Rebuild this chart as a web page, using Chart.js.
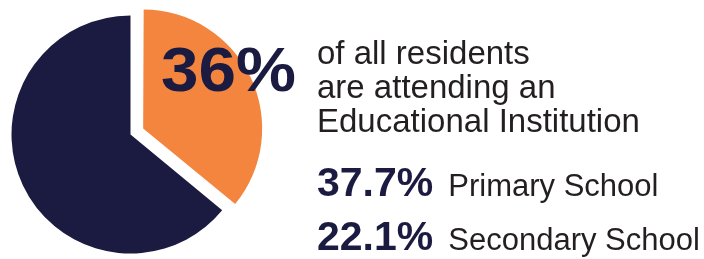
<!DOCTYPE html>
<html>
<head>
<meta charset="utf-8">
<script src="https://cdn.jsdelivr.net/npm/chart.js@4/dist/chart.umd.min.js"></script>
<style>
  html, body { margin: 0; padding: 0; background: #ffffff; overflow: hidden; }
  #wrap { position: relative; width: 704px; height: 259px; }
  #c { position: absolute; left: 0; top: 0; }
  .t { position: absolute; white-space: nowrap; line-height: 1; font-family: "Liberation Sans", Arial, Helvetica, sans-serif; }
  .big { font-weight: bold; color: #1b1a41; }
  .norm { color: #231f20; }
</style>
</head>
<body>
<div id="wrap">
  <canvas id="c" width="704" height="259"></canvas>
  <div class="t big" id="pct" style="left:161px; top:38px; font-size:63px; transform:scaleX(1.07); transform-origin:0 0;"></div>
  <div class="t norm" id="l1" style="left:317px; top:36px; font-size:33px;"></div>
  <div class="t norm" id="l2" style="left:317px; top:70px; font-size:33px;"></div>
  <div class="t norm" id="l3" style="left:317px; top:104px; font-size:33px;"></div>
  <div class="t" id="r1" style="left:317px; top:162px;"></div>
  <div class="t" id="r2" style="left:317px; top:216px;"></div>
</div>
<script>
const categories = ["Attending an Educational Institution", "Not attending"];
const shareValues = [36, 64];
const sliceColors = ["#f3853f", "#1b1a41"];
const headline = "36%";
const headlineText = ["of all residents", "are attending an", "Educational Institution"];
const schoolLabels = ["Primary School", "Secondary School"];
const schoolValues = ["37.7%", "22.1%"];

document.getElementById("pct").textContent = headline;
["l1", "l2", "l3"].forEach((id, i) => { document.getElementById(id).textContent = headlineText[i]; });
["r1", "r2"].forEach((id, i) => {
  const el = document.getElementById(id);
  el.innerHTML = '<span style="font-weight:bold;color:#1b1a41;font-size:41px;">' + schoolValues[i] +
    '</span><span style="color:#231f20;font-size:31px;margin-left:15px;">' + schoolLabels[i] + '</span>';
});

// Keep exploded slices at the same radius as the rest (Chart.js grows them slightly).
const keepRadius = {
  id: "keepRadius",
  afterDatasetUpdate(chart, args) {
    args.meta.data.forEach(el => {
      const off = ((el.options && el.options.offset) || 0) / 4;
      if (off) {
        const fix = 1 - Math.sin(Math.min(Math.PI, el.circumference || 0));
        el.outerRadius = Math.max(el.outerRadius - off * fix, 0);
      }
    });
  }
};

new Chart(document.getElementById("c"), {
  type: "pie",
  data: {
    labels: categories,
    datasets: [{
      data: shareValues,
      backgroundColor: sliceColors,
      borderWidth: 0,
      offset: [56, 0],
      hoverOffset: 0
    }]
  },
  options: {
    responsive: false,
    animation: false,
    events: [],
    radius: 119,
    layout: { padding: { left: 0, right: 443, top: 10, bottom: 0 } },
    plugins: { legend: { display: false }, tooltip: { enabled: false } }
  },
  plugins: [keepRadius]
});
</script>
</body>
</html>
